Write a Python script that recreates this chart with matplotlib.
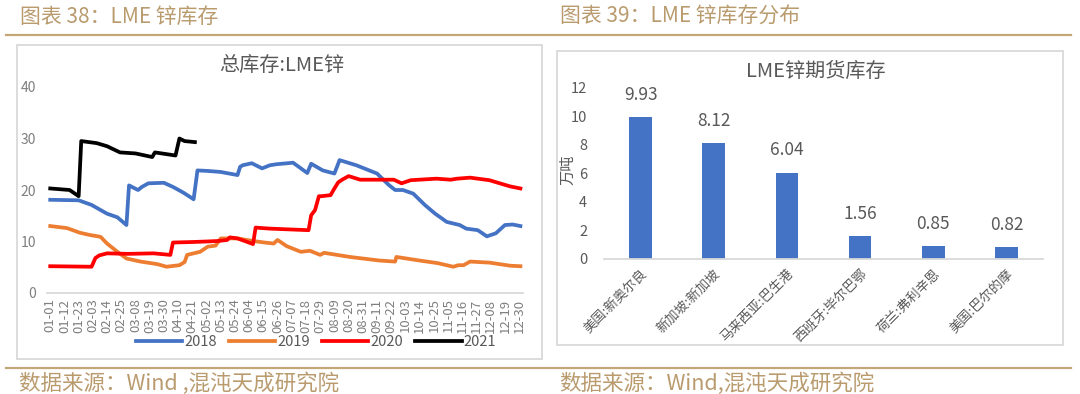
import numpy as np
import matplotlib
matplotlib.use("Agg")
import matplotlib.pyplot as plt
from matplotlib.patches import Rectangle
from matplotlib.lines import Line2D

plt.rcParams['font.family'] = ['Noto Sans CJK SC', 'DejaVu Sans']

# ---- data: LME zinc total stock (10k t), day-of-year index
days_2018 = [0, 22, 32, 44, 52, 59, 61, 64, 68, 71, 76, 88, 95, 103, 111, 114, 122, 132, 145, 147,
             149, 156, 164, 170, 175, 188, 199, 202, 211, 220, 224, 237, 253, 262, 267, 273, 281,
             290, 298, 307, 317, 322, 331, 338, 345, 352, 358, 364]
stock_2018 = [18.1, 18.0, 17.1, 15.4, 14.7, 13.2, 20.9, 20.5, 20.0, 20.6, 21.3, 21.4, 20.6, 19.5,
              18.2, 23.8, 23.7, 23.5, 22.9, 24.5, 24.8, 25.2, 24.2, 24.8, 25.0, 25.3, 23.3, 25.1,
              23.8, 23.2, 25.8, 24.8, 23.2, 21.0, 20.0, 20.0, 19.3, 17.1, 15.4, 13.8, 13.2, 12.5,
              12.2, 11.0, 11.6, 13.2, 13.3, 13.0]

days_2019 = [0, 13, 23, 30, 39, 44, 52, 59, 70, 83, 90, 100, 104, 106, 116, 122, 128, 132, 145,
             157, 166, 173, 176, 183, 194, 201, 209, 212, 232, 255, 267, 268, 286, 300, 312, 316,
             320, 325, 340, 356, 364]
stock_2019 = [13.0, 12.6, 11.7, 11.3, 10.9, 9.6, 8.0, 6.7, 6.1, 5.6, 5.1, 5.4, 6.0, 7.4, 8.0, 9.0,
              9.2, 10.6, 10.6, 10.1, 9.8, 9.6, 10.3, 9.1, 8.0, 8.2, 7.4, 7.8, 7.0, 6.3, 6.1, 7.0,
              6.3, 5.8, 5.1, 5.4, 5.4, 6.1, 5.9, 5.3, 5.2]

days_2020 = [0, 32, 35, 38, 44, 60, 80, 93, 95, 110, 121, 130, 137, 139, 145, 157, 159, 170, 200,
             202, 205, 208, 210, 217, 220, 223, 226, 231, 240, 266, 272, 279, 299, 310, 315, 325,
             340, 356, 364]
stock_2020 = [5.2, 5.1, 6.8, 7.3, 7.7, 7.6, 7.7, 7.4, 9.8, 9.9, 10.0, 10.1, 10.3, 10.8, 10.6, 9.5,
              12.7, 12.5, 12.2, 15.1, 16.1, 18.8, 18.8, 19.0, 20.3, 21.5, 22.0, 22.7, 22.0, 22.0,
              21.3, 21.9, 22.2, 22.0, 22.2, 22.4, 21.9, 20.7, 20.3]

days_2021 = [0, 15, 22, 24, 36, 44, 54, 66, 79, 81, 97, 100, 104, 112]
stock_2021 = [20.3, 20.0, 18.8, 29.5, 29.1, 28.5, 27.3, 27.1, 26.4, 27.3, 26.7, 30.0, 29.5, 29.3]

date_labels = ['01-01', '01-12', '01-23', '02-03', '02-14', '02-25', '03-08', '03-19', '03-30',
               '04-10', '04-21', '05-02', '05-13', '05-24', '06-04', '06-15', '06-26', '07-07',
               '07-18', '07-29', '08-09', '08-20', '08-31', '09-11', '09-22', '10-03', '10-14',
               '10-25', '11-05', '11-16', '11-27', '12-08', '12-19', '12-30']

# ---- data: LME zinc warrant stock by location (10k t)
ports = ['美国:新奥尔良', '新加坡:新加坡', '马来西亚:巴生港', '西班牙:毕尔巴鄂', '荷兰:弗利辛恩', '美国:巴尔的摩']
port_stock = [9.93, 8.12, 6.04, 1.56, 0.85, 0.82]

W, H = 1080, 394
gold = '#B99B6E'
gold_line = '#C4A777'
grey = '#595959'
frame = '#D9D9D9'


def fx(x):
    return x / W


def fy(y):
    return 1 - y / H


fig = plt.figure(figsize=(W / 100, H / 100), dpi=100)
fig.patch.set_facecolor('white')

# header / footer decorations
fig.add_artist(Line2D([fx(6), fx(1071)], [fy(35), fy(35)], color=gold_line, lw=1.6))
fig.add_artist(Line2D([fx(6), fx(1071)], [fy(368), fy(368)], color=gold_line, lw=1.6))
fig.text(fx(20), fy(17), '图表 38：LME 锌库存', color=gold, fontsize=15, va='center', ha='left')
fig.text(fx(560), fy(17), '图表 39：LME 锌库存分布', color=gold, fontsize=15, va='center', ha='left')
fig.text(fx(19), fy(384), '数据来源：Wind ,混沌天成研究院', color=gold, fontsize=15.5, va='center', ha='left')
fig.text(fx(559), fy(384), '数据来源：Wind,混沌天成研究院', color=gold, fontsize=15.5, va='center', ha='left')

# chart frames
fig.add_artist(Rectangle((fx(17), fy(359)), fx(542) - fx(17), fy(45) - fy(359),
                         fill=False, ec=frame, lw=1.3, transform=fig.transFigure))
fig.add_artist(Rectangle((fx(557), fy(345)), fx(1063) - fx(557), fy(51) - fy(345),
                         fill=False, ec=frame, lw=1.3, transform=fig.transFigure))

# ---- left: line chart
ax = fig.add_axes([fx(47), fy(293), fx(523) - fx(47), fy(87) - fy(293)])
ax.plot(days_2018, stock_2018, color='#4472C4', lw=2.7, label='2018')
ax.plot(days_2019, stock_2019, color='#ED7D31', lw=2.7, label='2019')
ax.plot(days_2020, stock_2020, color='#FF0000', lw=2.7, label='2020')
ax.plot(days_2021, stock_2021, color='#000000', lw=2.7, label='2021')
ax.set_xlim(-2.5, 366)
ax.set_ylim(0, 40)
ax.set_yticks(range(0, 41, 10))
ax.set_xticks(range(0, 364, 11))
ax.set_xticklabels(date_labels, rotation=90, fontsize=9.5, color='#7F7F7F')
ax.tick_params(axis='y', length=0, labelsize=10, labelcolor='#7F7F7F', pad=8)
ax.tick_params(axis='x', length=0, pad=4)
for s in ['top', 'right', 'left']:
    ax.spines[s].set_visible(False)
ax.spines['bottom'].set_color(frame)
ax.spines['bottom'].set_linewidth(1.3)
fig.text(fx(282), fy(65), '总库存:LME锌', ha='center', va='center', fontsize=14.5, color=grey)
fig.legend(loc='center', bbox_to_anchor=(fx(316), fy(342)), ncol=4, frameon=False,
           fontsize=10.5, labelcolor=grey, handlelength=3.2, handletextpad=0.15,
           columnspacing=0.8)

# ---- right: bar chart
bx = fig.add_axes([fx(604), fy(258.5), fx(1043) - fx(604), fy(87.7) - fy(258.5)])
xpos = np.arange(len(ports))
bars = bx.bar(xpos, port_stock, width=0.31, color='#4472C4')
for b, v in zip(bars, port_stock):
    bx.annotate(f'{v:.2f}', (b.get_x() + b.get_width() / 2, v), xytext=(0, 16),
                textcoords='offset points', ha='center', va='center', fontsize=12.5, color=grey)
bx.set_xlim(-0.5, len(ports) - 0.5)
bx.set_ylim(0, 12)
bx.set_yticks(range(0, 13, 2))
bx.set_xticks(xpos)
bx.set_xticklabels(ports, rotation=45, ha='right', va='top', rotation_mode='anchor',
                   fontsize=9.5, color=grey)
bx.tick_params(axis='y', length=0, labelsize=10.5, labelcolor=grey, pad=12)
bx.tick_params(axis='x', length=0, pad=6)
for s in ['top', 'right', 'left']:
    bx.spines[s].set_visible(False)
bx.spines['bottom'].set_color(frame)
bx.spines['bottom'].set_linewidth(1.3)
bx.set_ylabel('万吨', fontsize=11, color=grey, labelpad=2)
bx.yaxis.set_label_coords((576 - 604) / (1043 - 604), (258.5 - 170) / (258.5 - 87.7))
fig.text(fx(816), fy(71), 'LME锌期货库存', ha='center', va='center', fontsize=14.5, color=grey)

fig.savefig('out.png', dpi=100, facecolor='white')
